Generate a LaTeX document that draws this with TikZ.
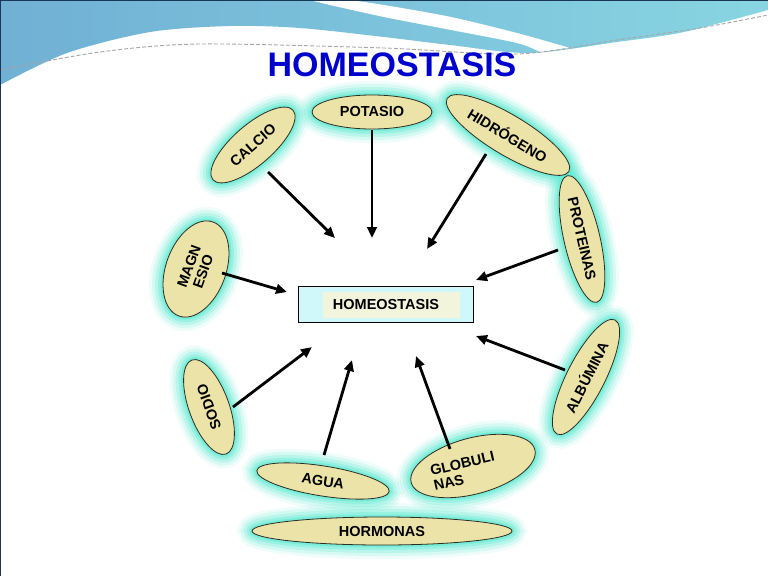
\documentclass[tikz,border=0pt]{standalone}
\usepackage{fontspec}
\setmainfont{Liberation Sans}
\usetikzlibrary{shapes.geometric,arrows.meta}
\definecolor{ellfill}{RGB}{236,227,168}
\definecolor{elldraw}{RGB}{45,45,35}
\definecolor{glowc}{RGB}{95,235,210}
\definecolor{titleblue}{RGB}{0,0,204}
\definecolor{blueL}{RGB}{112,176,212}
\definecolor{blueR}{RGB}{136,213,226}
\definecolor{boxfill}{RGB}{208,248,250}
\definecolor{boxin}{RGB}{242,245,220}
\definecolor{framec}{RGB}{25,55,85}
\begin{document}
\begin{tikzpicture}[x=1pt,y=-1pt,
  ell/.style={ellipse, draw=elldraw, line width=0.8pt, fill=ellfill, inner sep=0pt,
    font=\bfseries\fontsize{14.5}{15}\selectfont, text=black, align=center},
  arr/.style={line width=2.8pt, -{Triangle[length=11pt,width=9.5pt]}},
  lbl/.style={font=\bfseries\fontsize{14.5}{15.5}\selectfont, text=black, inner sep=0pt}
]
\useasboundingbox (0,0) rectangle (768,576);
\fill[white] (0,0) rectangle (768,576);

% top band
\shade[left color=blueL, right color=blueR]
  plot[smooth] coordinates {(0,85) (67,53) (150,32) (230,26) (300,28) (384,37) (450,45) (530,53) (617,42) (684,32) (768,10)}
  -- (768,0) -- (0,0) -- cycle;
\fill[white]
  plot[smooth] coordinates {(350,0) (384,5) (451,17) (517,33) (570,48)}
  -- plot[smooth] coordinates {(540,52) (517,43) (451,30) (384,17) (330,5) (310,0)} -- cycle;
\draw[gray!70, line width=0.9pt, dash pattern=on 4pt off 2pt]
  plot[smooth] coordinates {(0,70) (100,52) (200,44) (384,48) (517,54) (617,40) (700,28) (768,15)};
\draw[framec, line width=2pt] (0,576) -- (0,0) -- (768,0);

% title
\node[font=\bfseries\fontsize{34}{36}\selectfont, text=titleblue] (title) at (392,65) {HOMEOSTASIS};

% glows
\foreach \cx/\cy/\rx/\ry/\ang in {372/112/60/17/0, 253/145/53/20/41, 508/135/71/20/-31,
  582/239/65/18/-77, 586/377/64/19/63, 196/269/50/30/70, 209/407/50/20/110,
  323/481/67/15/-9, 473/466/64/28/15, 382/531/130/14/0} {
  \foreach \w/\o in {28/0.10, 22/0.16, 16/0.24, 10/0.36, 5/0.55}
    \draw[glowc, line width=\w pt, opacity=\o, rotate around={\ang:(\cx,\cy)}]
      (\cx,\cy) ellipse [x radius=\rx, y radius=\ry];
}

% ellipses
\node[ell, minimum width=120pt, minimum height=34pt] (potasio) at (372,112) {POTASIO};
\node[ell, minimum width=106pt, minimum height=40pt, rotate=41] (calcio) at (253,145) {CALCIO};
\node[ell, minimum width=142pt, minimum height=40pt, rotate=-31] (hidrogeno) at (508,135) {HIDRÓGENO};
\node[ell, minimum width=130pt, minimum height=36pt, rotate=-77] (proteinas) at (582,239) {PROTEINAS};
\node[ell, minimum width=128pt, minimum height=38pt, rotate=63] (albumina) at (586,377) {ALBÚMINA};
\node[ell, minimum width=100pt, minimum height=60pt, rotate=70] (magnesio) at (196,269) {MAGN\\ESIO};
\node[ell, minimum width=100pt, minimum height=40pt, rotate=110] (sodio) at (209,407) {SODIO};
\node[ell, minimum width=134pt, minimum height=30pt, rotate=-9] (agua) at (323,481) {AGUA};
\node[ell, minimum width=128pt, minimum height=56pt, rotate=15] (globulinas) at (473,466) {};
\node[lbl, rotate=13, align=left] (globtext) at (464,471) {GLOBULI\\NAS};
\node[ell, minimum width=260pt, minimum height=28pt] (hormonas) at (382,531) {HORMONAS};

% central box
\node[draw=black, line width=1pt, fill=boxfill, minimum width=175pt, minimum height=36pt, inner sep=0pt] (box) at (385.5,304) {};
\fill[boxin] (323,292) rectangle (460,318);
\node[lbl] (homeo) at (386,305) {HOMEOSTASIS};

% arrows
\coordinate (sCal) at (268,172); \coordinate (tCal) at (335,238);
\coordinate (sPot) at (372,130); \coordinate (tPot) at (372,238);
\coordinate (sHid) at (486,154); \coordinate (tHid) at (427,249);
\coordinate (sPro) at (558,250); \coordinate (tPro) at (476,280);
\coordinate (sAlb) at (565,370); \coordinate (tAlb) at (476,336);
\coordinate (sMag) at (222,273); \coordinate (tMag) at (287,292);
\coordinate (sSod) at (233,407); \coordinate (tSod) at (312,347);
\coordinate (sAgu) at (324,455); \coordinate (tAgu) at (352,360);
\coordinate (sGlo) at (450,449); \coordinate (tGlo) at (416,356);
\draw[arr] (sCal) -- (tCal);
\draw[arr] (sPot) -- (tPot);
\draw[arr] (sHid) -- (tHid);
\draw[arr] (sPro) -- (tPro);
\draw[arr] (sAlb) -- (tAlb);
\draw[arr] (sMag) -- (tMag);
\draw[arr] (sSod) -- (tSod);
\draw[arr] (sAgu) -- (tAgu);
\draw[arr] (sGlo) -- (tGlo);
\end{tikzpicture}
\end{document}
